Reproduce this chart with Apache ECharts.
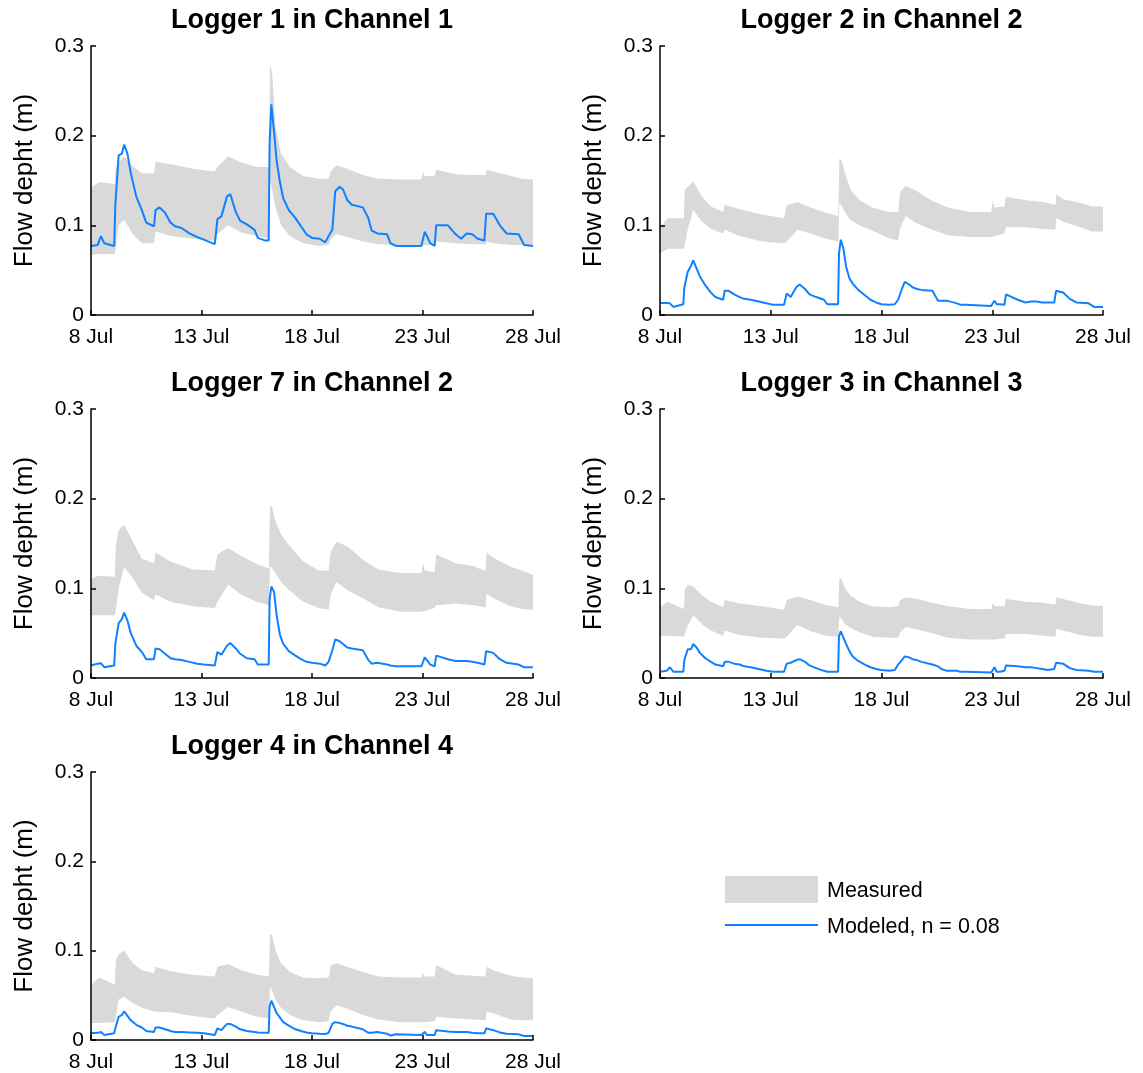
<!DOCTYPE html>
<html><head><meta charset="utf-8">
<script src="https://cdn.jsdelivr.net/npm/echarts@6/dist/echarts.min.js"></script>
<style>html,body{margin:0;padding:0;background:#fff}#c{width:1143px;height:1073px}</style>
</head><body><div id="c"></div>
<script>
// ---- tick labels ----
const xTickLabels = ['8 Jul', '13 Jul', '18 Jul', '23 Jul', '28 Jul'];
const yTicks = [0, 0.1, 0.2, 0.3];

// ---- x positions (days after 8 Jul) ----
const bandDays = [0, 0.35, 1.08, 1.12, 1.25, 1.5, 1.9, 2.3, 2.85, 2.92, 3.6, 4.6, 5.6, 5.72, 6.2, 6.8, 7.5, 8.05, 8.1, 8.2, 8.35, 8.6, 9.0, 9.6, 10.3, 10.75, 10.85, 11.1, 11.6, 12.3, 13.0, 14.0, 14.95, 15.02, 15.1, 15.55, 15.62, 16.5, 17.3, 17.85, 17.9, 18.2, 19.0, 19.5, 20];
const modelDays = [0, 0.3, 0.45, 0.6, 1.05, 1.1, 1.25, 1.4, 1.5, 1.65,
  1.8, 2.05, 2.3, 2.5, 2.85, 2.92, 3.1, 3.35, 3.6, 3.8,
  4.1, 4.45, 4.8, 5.1, 5.6, 5.68, 5.72, 5.9, 6.15, 6.3,
  6.55, 6.75, 7.05, 7.4, 7.55, 7.9, 8.04, 8.08, 8.16, 8.28,
  8.4, 8.55, 8.7, 8.95, 9.25, 9.5, 9.75, 10.0, 10.35, 10.6,
  10.75, 10.92, 11.05, 11.25, 11.4, 11.6, 11.8, 12.3, 12.55, 12.7,
  12.95, 13.4, 13.55, 13.8, 14.95, 15.1, 15.2, 15.35, 15.55, 15.62,
  16.15, 16.5, 16.75, 17.0, 17.25, 17.5, 17.8, 17.88, 18.2, 18.5,
  18.8, 19.35, 19.6, 20];

// ---- Logger 1 in Channel 1 ----
const logger1High = [0.142, 0.148, 0.146, 0.164, 0.17, 0.177, 0.166, 0.158, 0.158, 0.171, 0.168, 0.163, 0.16, 0.165, 0.177, 0.17, 0.165, 0.165, 0.278, 0.27, 0.21, 0.18, 0.165, 0.155, 0.152, 0.152, 0.16, 0.167, 0.163, 0.156, 0.152, 0.151, 0.151, 0.16, 0.155, 0.155, 0.162, 0.157, 0.156, 0.156, 0.162, 0.16, 0.155, 0.152, 0.151];
const logger1Low = [0.067, 0.068, 0.068, 0.075, 0.1, 0.106, 0.09, 0.08, 0.08, 0.093, 0.088, 0.085, 0.083, 0.09, 0.1, 0.092, 0.088, 0.085, 0.15, 0.14, 0.12, 0.1, 0.088, 0.08, 0.077, 0.078, 0.085, 0.09, 0.087, 0.082, 0.079, 0.078, 0.077, 0.078, 0.078, 0.078, 0.082, 0.08, 0.079, 0.079, 0.082, 0.08, 0.078, 0.078, 0.078];
const logger1Model = [0.077, 0.078, 0.088, 0.08, 0.077, 0.122, 0.178, 0.18, 0.19, 0.18,
  0.158, 0.132, 0.117, 0.103, 0.099, 0.117, 0.12, 0.114, 0.103, 0.099,
  0.097, 0.091, 0.087, 0.084, 0.079, 0.077, 0.107, 0.11, 0.132, 0.135,
  0.115, 0.105, 0.101, 0.095, 0.086, 0.083, 0.083, 0.19, 0.235, 0.205,
  0.172, 0.148, 0.13, 0.117, 0.108, 0.099, 0.09, 0.086, 0.085, 0.081,
  0.088, 0.095, 0.138, 0.143, 0.14, 0.128, 0.123, 0.12, 0.108, 0.094,
  0.091, 0.09, 0.08, 0.077, 0.077, 0.093, 0.088, 0.08, 0.077, 0.1,
  0.1, 0.09, 0.085, 0.091, 0.09, 0.085, 0.083, 0.113, 0.113, 0.1,
  0.091, 0.09, 0.078, 0.077];

// ---- Logger 2 in Channel 2 ----
const logger2High = [0.098, 0.108, 0.108, 0.14, 0.143, 0.149, 0.132, 0.121, 0.115, 0.123, 0.118, 0.112, 0.108, 0.122, 0.126, 0.12, 0.114, 0.11, 0.175, 0.172, 0.158, 0.14, 0.128, 0.12, 0.115, 0.115, 0.138, 0.144, 0.138, 0.127, 0.12, 0.115, 0.115, 0.127, 0.12, 0.121, 0.132, 0.128, 0.126, 0.123, 0.135, 0.129, 0.125, 0.121, 0.121];
const logger2Low = [0.069, 0.074, 0.074, 0.074, 0.095, 0.117, 0.104, 0.096, 0.091, 0.095, 0.088, 0.082, 0.08, 0.082, 0.095, 0.091, 0.085, 0.082, 0.125, 0.122, 0.115, 0.106, 0.1, 0.094, 0.086, 0.083, 0.098, 0.11, 0.102, 0.095, 0.089, 0.087, 0.087, 0.087, 0.088, 0.091, 0.098, 0.098, 0.096, 0.095, 0.108, 0.104, 0.098, 0.093, 0.093];
const logger2Model = [0.0135, 0.0135, 0.013, 0.009, 0.012, 0.031, 0.048, 0.055, 0.061, 0.052,
  0.043, 0.033, 0.025, 0.02, 0.017, 0.027, 0.027, 0.023, 0.02, 0.018,
  0.017, 0.015, 0.013, 0.0115, 0.0115, 0.0115, 0.024, 0.02, 0.031, 0.034,
  0.029, 0.023, 0.02, 0.017, 0.012, 0.012, 0.012, 0.068, 0.084, 0.074,
  0.054, 0.041, 0.035, 0.028, 0.022, 0.017, 0.014, 0.012, 0.0115, 0.012,
  0.017, 0.029, 0.037, 0.034, 0.031, 0.029, 0.028, 0.027, 0.016, 0.016,
  0.016, 0.013, 0.0115, 0.0115, 0.01, 0.016, 0.012, 0.012, 0.0115, 0.023,
  0.017, 0.014, 0.015, 0.015, 0.014, 0.014, 0.014, 0.027, 0.025, 0.018,
  0.014, 0.013, 0.009, 0.009];

// ---- Logger 7 in Channel 2 ----
const logger7High = [0.111, 0.114, 0.113, 0.147, 0.165, 0.171, 0.152, 0.133, 0.128, 0.14, 0.13, 0.121, 0.12, 0.138, 0.145, 0.136, 0.127, 0.122, 0.193, 0.19, 0.175, 0.16, 0.147, 0.13, 0.12, 0.12, 0.141, 0.152, 0.147, 0.132, 0.121, 0.117, 0.117, 0.128, 0.12, 0.118, 0.138, 0.128, 0.125, 0.119, 0.14, 0.134, 0.124, 0.12, 0.115];
const logger7Low = [0.07, 0.07, 0.07, 0.075, 0.1, 0.124, 0.111, 0.095, 0.087, 0.093, 0.085, 0.08, 0.078, 0.085, 0.104, 0.093, 0.085, 0.081, 0.125, 0.122, 0.117, 0.107, 0.097, 0.085, 0.078, 0.076, 0.093, 0.107, 0.098, 0.089, 0.079, 0.074, 0.074, 0.074, 0.075, 0.078, 0.081, 0.083, 0.081, 0.079, 0.094, 0.089, 0.08, 0.077, 0.076];
const logger7Model = [0.014, 0.016, 0.0165, 0.012, 0.014, 0.038, 0.061, 0.066, 0.073, 0.064,
  0.05, 0.036, 0.029, 0.021, 0.021, 0.033, 0.032, 0.027, 0.022, 0.021,
  0.02, 0.018, 0.016, 0.015, 0.014, 0.014, 0.029, 0.026, 0.036, 0.039,
  0.033, 0.027, 0.022, 0.021, 0.015, 0.015, 0.015, 0.087, 0.102, 0.096,
  0.07, 0.048, 0.038, 0.03, 0.025, 0.021, 0.018, 0.017, 0.016, 0.014,
  0.018, 0.031, 0.043, 0.041, 0.038, 0.034, 0.033, 0.031, 0.02, 0.016,
  0.017, 0.015, 0.014, 0.013, 0.013, 0.023, 0.02, 0.015, 0.013, 0.025,
  0.021, 0.019, 0.019, 0.019, 0.018, 0.017, 0.015, 0.03, 0.028, 0.021,
  0.017, 0.015, 0.012, 0.012];

// ---- Logger 3 in Channel 3 ----
const logger3High = [0.079, 0.085, 0.077, 0.098, 0.104, 0.102, 0.092, 0.085, 0.079, 0.087, 0.083, 0.08, 0.076, 0.087, 0.091, 0.087, 0.081, 0.079, 0.112, 0.11, 0.1, 0.092, 0.085, 0.08, 0.079, 0.08, 0.087, 0.09, 0.088, 0.084, 0.08, 0.077, 0.077, 0.084, 0.08, 0.08, 0.088, 0.085, 0.084, 0.082, 0.09, 0.088, 0.083, 0.081, 0.08];
const logger3Low = [0.047, 0.047, 0.046, 0.047, 0.058, 0.07, 0.06, 0.053, 0.047, 0.053, 0.048, 0.045, 0.044, 0.046, 0.059, 0.052, 0.047, 0.046, 0.068, 0.066, 0.06, 0.056, 0.051, 0.046, 0.045, 0.045, 0.051, 0.057, 0.054, 0.05, 0.045, 0.043, 0.043, 0.043, 0.043, 0.044, 0.049, 0.049, 0.047, 0.046, 0.055, 0.053, 0.048, 0.046, 0.046];
const logger3Model = [0.007, 0.008, 0.012, 0.007, 0.007, 0.02, 0.032, 0.032, 0.038, 0.034,
  0.028, 0.022, 0.018, 0.015, 0.013, 0.018, 0.018, 0.016, 0.015, 0.013,
  0.012, 0.01, 0.008, 0.007, 0.007, 0.007, 0.016, 0.017, 0.02, 0.021,
  0.018, 0.014, 0.011, 0.008, 0.007, 0.007, 0.007, 0.047, 0.052, 0.045,
  0.038, 0.03, 0.024, 0.019, 0.015, 0.012, 0.01, 0.009, 0.008, 0.009,
  0.015, 0.02, 0.024, 0.023, 0.021, 0.02, 0.018, 0.015, 0.013, 0.01,
  0.008, 0.008, 0.007, 0.007, 0.006, 0.012, 0.007, 0.007, 0.008, 0.014,
  0.013, 0.012, 0.012, 0.011, 0.01, 0.009, 0.01, 0.017, 0.016, 0.011,
  0.009, 0.008, 0.007, 0.007];

// ---- Logger 4 in Channel 4 ----
const logger4High = [0.0615, 0.07, 0.062, 0.088, 0.096, 0.1, 0.086, 0.078, 0.075, 0.082, 0.077, 0.073, 0.071, 0.082, 0.085, 0.078, 0.073, 0.071, 0.119, 0.117, 0.1, 0.086, 0.076, 0.07, 0.069, 0.07, 0.083, 0.086, 0.082, 0.076, 0.071, 0.07, 0.07, 0.075, 0.071, 0.071, 0.084, 0.073, 0.072, 0.071, 0.082, 0.078, 0.072, 0.07, 0.069];
const logger4Low = [0.019, 0.019, 0.02, 0.022, 0.045, 0.048, 0.041, 0.036, 0.032, 0.034, 0.031, 0.027, 0.024, 0.028, 0.037, 0.032, 0.026, 0.024, 0.06, 0.055, 0.045, 0.036, 0.028, 0.022, 0.02, 0.021, 0.032, 0.039, 0.035, 0.028, 0.023, 0.02, 0.02, 0.02, 0.02, 0.021, 0.026, 0.024, 0.023, 0.022, 0.032, 0.03, 0.023, 0.022, 0.022];
const logger4Model = [0.0075, 0.008, 0.009, 0.0056, 0.0075, 0.013, 0.026, 0.028, 0.032, 0.027,
  0.022, 0.017, 0.014, 0.01, 0.009, 0.014, 0.014, 0.012, 0.01, 0.009,
  0.009, 0.0085, 0.008, 0.0075, 0.0055, 0.0045, 0.013, 0.011, 0.018, 0.018,
  0.015, 0.012, 0.01, 0.009, 0.0085, 0.008, 0.008, 0.037, 0.044, 0.037,
  0.03, 0.025, 0.02, 0.016, 0.012, 0.01, 0.0085, 0.0075, 0.007, 0.0067,
  0.008, 0.018, 0.02, 0.019, 0.018, 0.016, 0.015, 0.012, 0.008, 0.008,
  0.009, 0.007, 0.005, 0.0065, 0.0056, 0.009, 0.0056, 0.0056, 0.0056, 0.011,
  0.0095, 0.009, 0.009, 0.009, 0.008, 0.0075, 0.0075, 0.013, 0.011, 0.0085,
  0.007, 0.0063, 0.0045, 0.0045];

const panelTitles = ['Logger 1 in Channel 1', 'Logger 2 in Channel 2', 'Logger 7 in Channel 2', 'Logger 3 in Channel 3', 'Logger 4 in Channel 4'];
const panelHigh = [logger1High, logger2High, logger7High, logger3High, logger4High];
const panelLow = [logger1Low, logger2Low, logger7Low, logger3Low, logger4Low];
const panelModel = [logger1Model, logger2Model, logger7Model, logger3Model, logger4Model];

// ---- layout / style ----
const FONT = '"Liberation Sans", Arial, Helvetica, sans-serif';
const GRAY = '#d9d9d9';
const BLUE = '#0f80ff';
const boxes = [
  {left: 91, top: 46, width: 442, height: 269},
  {left: 660, top: 46, width: 443, height: 269},
  {left: 91, top: 409, width: 442, height: 269},
  {left: 660, top: 409, width: 443, height: 269},
  {left: 91, top: 772, width: 442, height: 269}
];

const grid = [], xAxis = [], yAxis = [], series = [], title = [];
panelTitles.forEach((t, i) => {
  const b = boxes[i];
  grid.push({left: b.left, top: b.top, width: b.width, height: b.height, containLabel: false});
  title.push({
    text: t, left: b.left + b.width / 2, top: b.top - 39, textAlign: 'center', padding: 0,
    textStyle: {fontSize: 27, fontWeight: 'bold', fontFamily: FONT, color: '#000'}
  });
  xAxis.push({
    gridIndex: i, type: 'value', min: 0, max: 20, interval: 5, z: 10,
    axisLine: {show: true, onZero: false, lineStyle: {color: '#000', width: 1.5}},
    axisTick: {show: true, inside: true, length: 5, lineStyle: {color: '#000', width: 1.5}},
    splitLine: {show: false},
    axisLabel: {margin: 12, color: '#000', fontSize: 21, fontFamily: FONT, showMinLabel: true, showMaxLabel: true,
      formatter: v => xTickLabels[Math.round(v / 5)]}
  });
  yAxis.push({
    gridIndex: i, type: 'value', min: yTicks[0], max: yTicks[yTicks.length - 1], interval: 0.1, z: 10,
    name: 'Flow depht (m)', nameLocation: 'middle', nameGap: 53,
    nameTextStyle: {fontSize: 26, fontFamily: FONT, color: '#000'},
    axisLine: {show: true, onZero: false, lineStyle: {color: '#000', width: 1.5}},
    axisTick: {show: true, inside: true, length: 5, lineStyle: {color: '#000', width: 1.5}},
    splitLine: {show: false},
    axisLabel: {margin: 7, color: '#000', fontSize: 21, fontFamily: FONT,
      formatter: v => String(Math.round(v * 10) / 10)}
  });
  series.push({
    name: 'Measured', type: 'line', xAxisIndex: i, yAxisIndex: i, z: 1, silent: true,
    symbol: 'none', lineStyle: {width: 0, opacity: 0},
    areaStyle: {color: GRAY, opacity: 1},
    data: bandDays.map((d, k) => [d, panelHigh[i][k]])
  });
  series.push({
    name: 'MeasuredLow', type: 'line', xAxisIndex: i, yAxisIndex: i, z: 2, silent: true,
    symbol: 'none', lineStyle: {width: 0, opacity: 0},
    areaStyle: {color: '#ffffff', opacity: 1},
    data: bandDays.map((d, k) => [d, panelLow[i][k]])
  });
  series.push({
    name: 'Modeled, n = 0.08', type: 'line', xAxisIndex: i, yAxisIndex: i, z: 3, silent: true,
    symbol: 'none', lineStyle: {width: 2, color: BLUE},
    data: modelDays.map((d, k) => [d, panelModel[i][k]])
  });
});

const chart = echarts.init(document.getElementById('c'), null, {renderer: 'canvas'});
chart.setOption({
  animation: false,
  backgroundColor: '#fff',
  title, grid, xAxis, yAxis, series,
  graphic: [
    {type: 'rect', shape: {x: 725, y: 876, width: 93, height: 27}, style: {fill: GRAY}},
    {type: 'line', shape: {x1: 725, y1: 925, x2: 818, y2: 925}, style: {stroke: BLUE, lineWidth: 2}},
    {type: 'text', x: 827, y: 891, style: {text: 'Measured', font: '21.5px ' + FONT, fill: '#000', textVerticalAlign: 'middle'}},
    {type: 'text', x: 827, y: 927, style: {text: 'Modeled, n = 0.08', font: '21.5px ' + FONT, fill: '#000', textVerticalAlign: 'middle'}}
  ]
});
</script>
</body></html>
